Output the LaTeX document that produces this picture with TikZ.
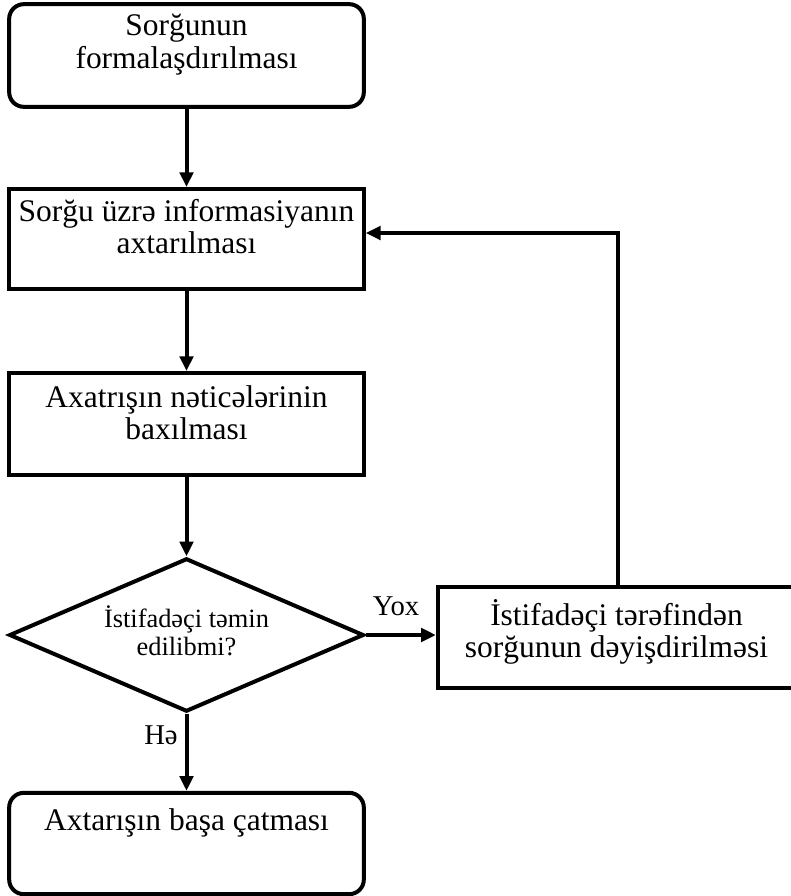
\documentclass[tikz,border=0pt]{standalone}
\usepackage{fontspec}
\setmainfont{Liberation Serif}
\usetikzlibrary{shapes.geometric,arrows.meta}
\begin{document}
\begin{tikzpicture}[x=0.75pt,y=-0.75pt,
  frame/.style={draw,line width=3pt,inner sep=0pt,minimum width=266pt,minimum height=76pt},
  procbox/.style={frame,rectangle},
  termbox/.style={frame,rectangle,rounded corners=11pt},
  decision/.style={frame,diamond,minimum height=115pt},
  boxtext/.style={anchor=north,inner sep=0pt,align=center,font=\fontsize{23.6}{22.5}\selectfont},
  dectext/.style={anchor=north,inner sep=0pt,align=center,font=\fontsize{19.8}{21}\selectfont},
  edgelabel/.style={anchor=base,inner sep=0pt,font=\fontsize{21.5}{24}\selectfont},
  flow/.style={line width=3pt,-{Triangle[length=11pt,width=10pt]}}
]
\useasboundingbox (0,0) rectangle (791,896);

% boxes
\node[termbox,minimum height=77pt] (start) at (186.5,55.5) {};
\node[procbox,minimum height=75pt] (search) at (186.5,239) {};
\node[procbox,minimum height=76.5pt] (view) at (186.5,424) {};
\node[decision] (ok) at (186.5,635) {};
\node[procbox,minimum width=268pt] (modify) at (616.5,637.5) {};
\node[termbox] (finish) at (186.5,843.5) {};

% box texts
\node[boxtext] (tstart) at ([yshift=-9pt]start.north) {\strut Sorğunun\\ formalaşdırılması};
\node[boxtext] (tsearch) at ([yshift=-9pt]search.north) {\strut Sorğu üzrə informasiyanın\\ axtarılması};
\node[boxtext] (tview) at ([yshift=-10.5pt]view.north) {\strut Axatrışın nəticələrinin\\ baxılması};
\node[dectext] (tok) at ([yshift=22.5pt]ok.center) {\strut İstifadəçi təmin\\ edilibmi?};
\node[boxtext,font=\fontsize{23.6}{22}\selectfont] (tmodify) at ([yshift=-10.5pt]modify.north) {\strut İstifadəçi tərəfindən\\ sorğunun dəyişdirilməsi};
\node[boxtext] (tfinish) at ([yshift=-13.5pt]finish.north) {\strut Axtarışın başa çatması};

% connectors
\draw[flow] (start) -- (search);
\draw[flow] (search) -- (view);
\draw[flow] (view) -- (ok);
\draw[flow] (ok.east) -- (ok.east -| modify.west);
\draw[flow] (ok.south) -- (finish.north);
\draw[flow] ([xshift=1pt]modify.north) |- ([yshift=4.5pt]search.east);

% branch labels
\node[edgelabel] (no) at (396,615) {Yox};
\node[edgelabel] (yes) at (161,744) {Hə};
\end{tikzpicture}
\end{document}
